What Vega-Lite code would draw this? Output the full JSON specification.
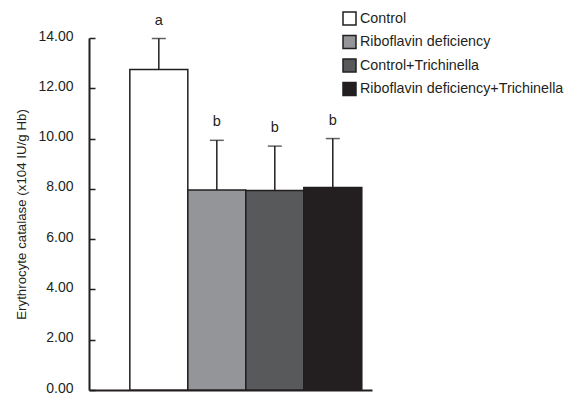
{
  "$schema": "https://vega.github.io/schema/vega-lite/v6.json",
  "autosize": "none",
  "width": 283,
  "height": 352,
  "padding": {"left": 89, "top": 38, "right": 194, "bottom": 4},
  "background": "white",
  "config": {
    "font": "Liberation Sans",
    "view": {"stroke": null}
  },
  "data": {
    "values": [
      {"group": "Control", "value": 12.75, "upper": 13.98, "letter": "a"},
      {"group": "Riboflavin deficiency", "value": 7.95, "upper": 9.93, "letter": "b"},
      {"group": "Control+Trichinella", "value": 7.93, "upper": 9.7, "letter": "b"},
      {"group": "Riboflavin deficiency+Trichinella", "value": 8.05, "upper": 10.0, "letter": "b"}
    ]
  },
  "encoding": {
    "x": {
      "field": "group",
      "type": "nominal",
      "sort": null,
      "scale": {"paddingInner": 0, "paddingOuter": 0.44, "align": 0.8},
      "axis": {"title": null, "labels": false, "ticks": false, "domainColor": "#231f20", "domainWidth": 2}
    }
  },
  "layer": [
    {
      "mark": {"type": "rule", "stroke": "#231f20", "strokeWidth": 1.5},
      "encoding": {
        "y": {"field": "value", "type": "quantitative"},
        "y2": {"field": "upper"}
      }
    },
    {
      "mark": {"type": "tick", "color": "#231f20", "size": 14, "thickness": 1.5, "orient": "horizontal"},
      "encoding": {
        "y": {"field": "upper", "type": "quantitative"}
      }
    },
    {
      "mark": {"type": "bar", "stroke": "#231f20", "strokeWidth": 1.5},
      "encoding": {
        "y": {
          "field": "value",
          "type": "quantitative",
          "scale": {"domain": [0, 14], "nice": false},
          "axis": {
            "title": "Erythrocyte catalase (x104 IU/g Hb)",
            "titleFont": "Liberation Sans",
            "titleFontSize": 13.3,
            "titleFontWeight": "normal",
            "titleColor": "#231f20",
            "titlePadding": 9,
            "values": [0, 2, 4, 6, 8, 10, 12, 14],
            "format": ".2f",
            "labelFontSize": 14,
            "labelColor": "#231f20",
            "labelPadding": 22,
            "labelOffset": -2,
            "grid": false,
            "tickSize": -6,
            "tickColor": "#231f20",
            "tickWidth": 1.5,
            "domainColor": "#231f20",
            "domainWidth": 2
          }
        },
        "fill": {
          "field": "group",
          "type": "nominal",
          "sort": null,
          "scale": {
            "domain": ["Control", "Riboflavin deficiency", "Control+Trichinella", "Riboflavin deficiency+Trichinella"],
            "range": ["#ffffff", "#939598", "#58595b", "#231f20"]
          },
          "legend": {
            "title": null,
            "orient": "none",
            "legendX": 253,
            "legendY": -27,
            "symbolType": "square",
            "symbolSize": 169,
            "symbolStrokeColor": "#231f20",
            "symbolStrokeWidth": 1.5,
            "labelFontSize": 14.3,
            "labelColor": "#231f20",
            "labelOffset": 3,
            "labelLimit": 300,
            "rowPadding": 4.5
          }
        }
      }
    },
    {
      "mark": {"type": "text", "baseline": "alphabetic", "dy": -14, "fontSize": 14.5, "color": "#231f20"},
      "encoding": {
        "y": {"field": "upper", "type": "quantitative"},
        "text": {"field": "letter"}
      }
    }
  ]
}
